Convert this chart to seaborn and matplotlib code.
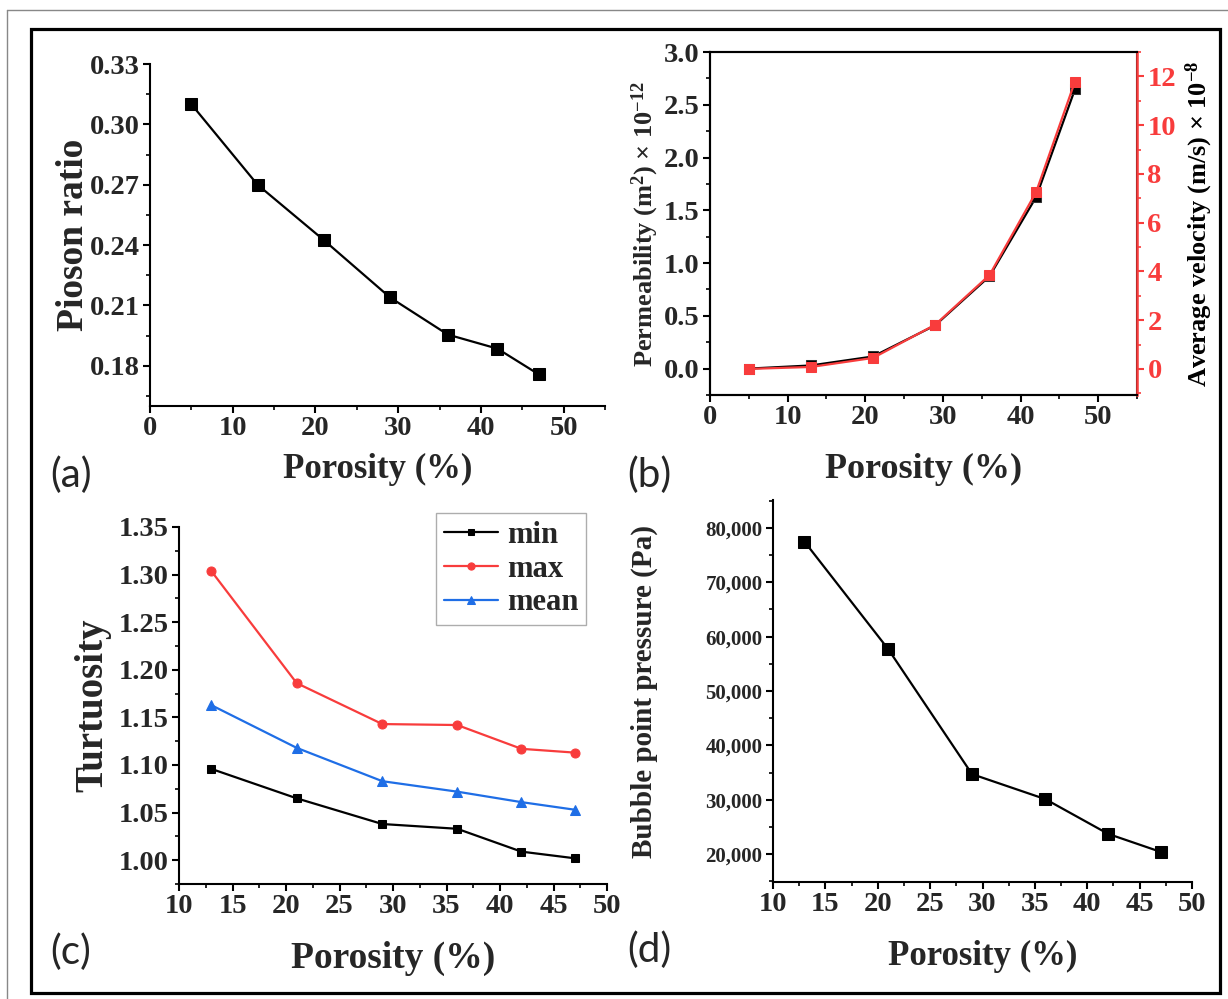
import matplotlib
matplotlib.use("Agg")
import matplotlib.pyplot as plt
import seaborn as sns
import numpy as np
import pandas as pd
from matplotlib.ticker import MultipleLocator, FuncFormatter, FormatStrFormatter
from matplotlib.lines import Line2D
from matplotlib.patches import Rectangle

# ---------------- data ----------------
porosity_a = [5, 13, 21, 29, 36, 42, 47]
poisson = [0.310, 0.270, 0.2425, 0.214, 0.1955, 0.1885, 0.1757]

porosity_b = [5, 13, 21, 29, 36, 42, 47]
permeability = [0.0, 0.03, 0.115, 0.41, 0.875, 1.625, 2.645]
velocity = [0.0, 0.08, 0.45, 1.81, 3.85, 7.25, 11.78]

porosity_c = [13, 21, 29, 36, 42, 47]
tort_min = [1.096, 1.065, 1.038, 1.033, 1.009, 1.002]
tort_max = [1.304, 1.186, 1.143, 1.142, 1.117, 1.113]
tort_mean = [1.163, 1.118, 1.083, 1.072, 1.061, 1.053]

porosity_d = [13, 21, 29, 36, 42, 47]
bubble = [77500, 57700, 34700, 30100, 23700, 20400]

RED = "#F83C3C"
BLUE = "#1F6EE6"

sns.set_theme(style="ticks")
plt.rcParams["font.family"] = ["Liberation Serif", "DejaVu Serif"]
plt.rcParams["font.weight"] = "bold"
plt.rcParams["axes.labelweight"] = "bold"
plt.rcParams["mathtext.default"] = "regular"
plt.rcParams["axes.linewidth"] = 1.5

W, H = 1228, 999
fig = plt.figure(figsize=(W / 100, H / 100), dpi=100)
fig.patch.set_facecolor("white")


def add_ax(x0, x1, y0, y1):
    return fig.add_axes([x0 / W, 1 - y1 / H, (x1 - x0) / W, (y1 - y0) / H])


def style_ax(ax, tsize=20.5):
    ax.tick_params(which="major", direction="out", length=5, width=1.5,
                   labelsize=tsize, pad=2.5, color="black")
    ax.tick_params(which="minor", direction="out", length=3, width=1.2,
                   color="black")
    for lab in ax.get_xticklabels() + ax.get_yticklabels():
        lab.set_fontweight("bold")
    for s in ax.spines.values():
        s.set_linewidth(1.5)
        s.set_color("black")
    ax.set_facecolor("white")
    ax.grid(False)


# ---------------- (a) ----------------
axa = add_ax(150, 605, 64, 406)
sns.lineplot(x=porosity_a, y=poisson, ax=axa, color="black", marker="s",
             markersize=8, markeredgecolor="black", linewidth=1.6, errorbar=None)
axa.set_xlim(0, 55)
axa.set_ylim(0.16, 0.33)
axa.xaxis.set_major_locator(MultipleLocator(10))
axa.xaxis.set_minor_locator(MultipleLocator(5))
axa.yaxis.set_major_locator(MultipleLocator(0.03))
axa.yaxis.set_minor_locator(MultipleLocator(0.015))
axa.yaxis.set_major_formatter(FormatStrFormatter("%.2f"))
sns.despine(ax=axa)
style_ax(axa)
axa.set_xlabel("Porosity (%)", fontsize=25, fontweight="bold")
axa.set_ylabel("Pioson ratio", fontsize=27, fontweight="bold")
axa.xaxis.set_label_coords(0.5, -0.138)
axa.yaxis.set_label_coords(-0.13, 0.5)

# ---------------- (b) ----------------
axb = add_ax(710, 1137, 52, 395)
sns.lineplot(x=porosity_b, y=permeability, ax=axb, color="black", marker="s",
             markersize=7, markeredgecolor="#333333", linewidth=1.6, errorbar=None)
axb.set_xlim(0, 55)
axb.set_ylim(-0.25, 3.0)
axb.xaxis.set_major_locator(MultipleLocator(10))
axb.xaxis.set_minor_locator(MultipleLocator(5))
axb.yaxis.set_major_locator(MultipleLocator(0.5))
axb.yaxis.set_minor_locator(MultipleLocator(0.25))
axb.yaxis.set_major_formatter(FormatStrFormatter("%.1f"))
style_ax(axb)
axb.set_xlabel("Porosity (%)", fontsize=26, fontweight="bold")
axb.set_ylabel(r"Permeability (m$^{2}$) × 10$^{-12}$", fontsize=19, fontweight="bold")
axb.xaxis.set_label_coords(0.5, -0.168)
axb.yaxis.set_label_coords(-0.115, 0.5)

axb2 = axb.twinx()
sns.lineplot(x=porosity_b, y=velocity, ax=axb2, color=RED, marker="s",
             markersize=7, markeredgecolor=RED, linewidth=1.6, errorbar=None)
axb2.set_ylim(-1.07, 13.0)
axb2.yaxis.set_major_locator(MultipleLocator(2))
axb2.yaxis.set_minor_locator(MultipleLocator(1))
style_ax(axb2, tsize=20.5)
axb2.spines["right"].set_color(RED)
axb2.spines["right"].set_linewidth(1.8)
axb2.tick_params(axis="y", which="both", colors=RED)
for lab in axb2.get_yticklabels():
    lab.set_color(RED)
    lab.set_fontweight("bold")
axb2.set_ylabel(r"Average velocity (m/s) × 10$^{-8}$", fontsize=19,
                fontweight="bold", color="black")
axb2.yaxis.set_label_coords(1.11, 0.5)

# ---------------- (c) ----------------
axc = add_ax(179, 607, 527, 884)
sns.lineplot(x=porosity_c, y=tort_min, ax=axc, color="black", marker="s",
             markersize=6, markeredgecolor="black", linewidth=1.6,
             errorbar=None, label="min")
sns.lineplot(x=porosity_c, y=tort_max, ax=axc, color=RED, marker="o",
             markersize=6.5, markeredgecolor=RED, linewidth=1.6,
             errorbar=None, label="max")
sns.lineplot(x=porosity_c, y=tort_mean, ax=axc, color=BLUE, marker="^",
             markersize=7, markeredgecolor=BLUE, linewidth=1.6,
             errorbar=None, label="mean")
axc.set_xlim(10, 50)
axc.set_ylim(0.975, 1.35)
axc.xaxis.set_major_locator(MultipleLocator(5))
axc.xaxis.set_minor_locator(MultipleLocator(2.5))
axc.yaxis.set_major_locator(MultipleLocator(0.05))
axc.yaxis.set_minor_locator(MultipleLocator(0.025))
axc.yaxis.set_major_formatter(FormatStrFormatter("%.2f"))
sns.despine(ax=axc)
style_ax(axc)
axc.set_xlabel("Porosity (%)", fontsize=27, fontweight="bold")
axc.set_ylabel("Turtuosity", fontsize=28, fontweight="bold")
axc.xaxis.set_label_coords(0.5, -0.16)
axc.yaxis.set_label_coords(-0.158, 0.5)
leg = axc.legend(loc="upper right", bbox_to_anchor=(0.965, 1.055),
                 prop={"family": "Liberation Serif", "weight": "bold", "size": 22},
                 frameon=True, fancybox=False, edgecolor="#999999",
                 handlelength=1.75, handletextpad=0.3, labelspacing=0.15,
                 borderpad=0.25, borderaxespad=0.2, markerscale=0.8)
leg.get_frame().set_linewidth(1.0)

# ---------------- (d) ----------------
axd = add_ax(773, 1192, 500, 882)
sns.lineplot(x=porosity_d, y=bubble, ax=axd, color="black", marker="s",
             markersize=8, markeredgecolor="black", linewidth=1.6, errorbar=None)
axd.set_xlim(10, 50)
axd.set_ylim(14850, 85150)
axd.xaxis.set_major_locator(MultipleLocator(5))
axd.xaxis.set_minor_locator(MultipleLocator(2.5))
axd.yaxis.set_major_locator(MultipleLocator(10000))
axd.yaxis.set_minor_locator(MultipleLocator(5000))
axd.yaxis.set_major_formatter(FuncFormatter(lambda v, p: f"{v:,.0f}"))
sns.despine(ax=axd)
style_ax(axd)
axd.tick_params(axis="y", which="major", labelsize=15)
for lab in axd.get_yticklabels():
    lab.set_fontweight("bold")
axd.set_xlabel("Porosity (%)", fontsize=25, fontweight="bold")
axd.set_ylabel("Bubble point pressure (Pa)", fontsize=21, fontweight="bold")
axd.xaxis.set_label_coords(0.5, -0.152)
axd.yaxis.set_label_coords(-0.275, 0.5)

# ---------------- panel letters ----------------
for txt, x, y in [("(a)", 50, 475), ("(b)", 627, 475), ("(c)", 50, 952), ("(d)", 627, 950)]:
    fig.text(x / W, 1 - y / H, txt, fontsize=29, family=["Lato", "DejaVu Sans"],
             fontweight="normal", ha="left", va="center")

# ---------------- frames ----------------
fig.add_artist(Line2D([7 / W, 1], [1 - 10 / H, 1 - 10 / H], transform=fig.transFigure,
                      color="#888888", linewidth=1.0))
fig.add_artist(Line2D([7 / W, 7 / W], [0, 1 - 10 / H], transform=fig.transFigure,
                      color="#888888", linewidth=1.0))
fig.add_artist(Rectangle((31 / W, 1 - 993 / H), (1220 - 31) / W, (993 - 29) / H,
                         transform=fig.transFigure, fill=False, edgecolor="black",
                         linewidth=2.3))

fig.savefig("out.png", dpi=100, facecolor="white")
